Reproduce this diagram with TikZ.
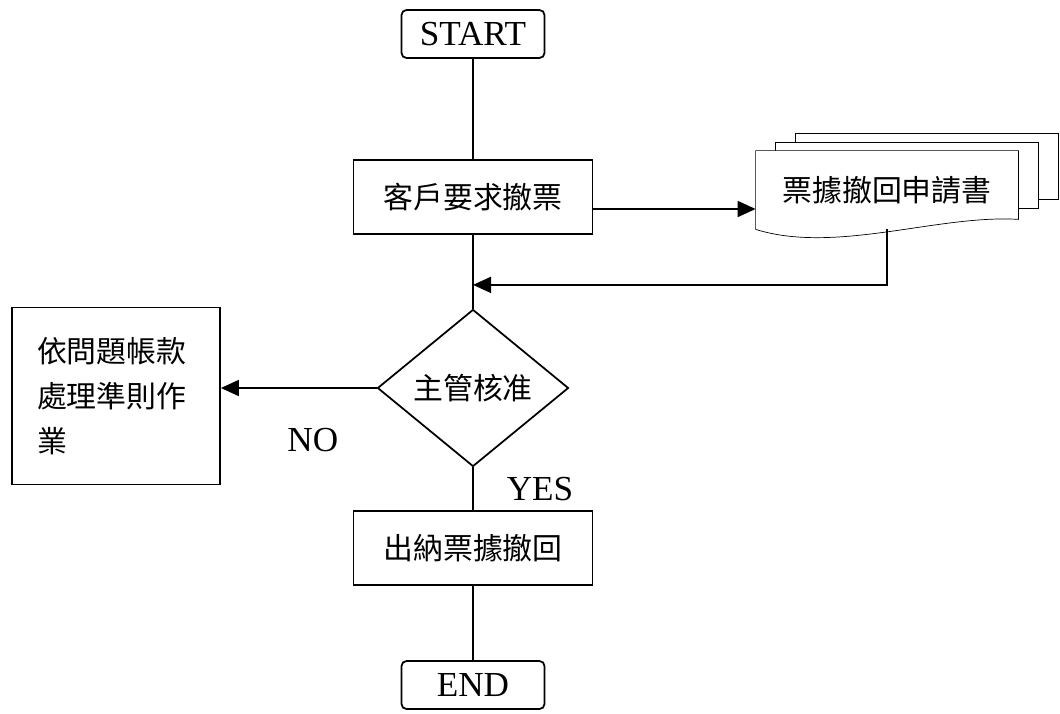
\documentclass[tikz,border=0pt]{standalone}
\usepackage{fontspec}
\setmainfont{Liberation Serif}
\newfontfamily\cjk{Noto Sans CJK TC}
\usetikzlibrary{arrows.meta, positioning, shapes.geometric, backgrounds}

\begin{document}
\begin{tikzpicture}[>={Triangle[length=0.36cm, width=0.32cm]}, node distance=3cm, on grid, line width=1pt,
        terminal/.style={rectangle, rounded corners=0.1cm, draw, minimum width=2.86cm, minimum height=0.96cm, font=\fontsize{20}{24}\selectfont},
        process/.style={rectangle, draw, minimum width=4.78cm, minimum height=1.48cm, font=\cjk\fontsize{17}{20}\selectfont},
        decision/.style={diamond, draw, aspect=1.2, inner sep=0pt, minimum width=3.82cm, minimum height=3.14cm, font=\cjk\fontsize{17}{20}\selectfont},
        docu/.style={rectangle, inner sep=0pt, minimum width=5.22cm, minimum height=1.54cm, font=\cjk\fontsize{17}{20}\selectfont},
        tag/.style={font=\fontsize{20}{24}\selectfont}]
    \useasboundingbox (0,0) rectangle (21.2,-14.26);

      % Main column
      \node[terminal] (start) at (9.46,-0.68) {START};
      \node[process, below=3.26cm of start] (request) {客戶要求撤票};
      \node[decision, below=3.82cm of request] (approve) {主管核准};
      \node[process, below=3.2cm of approve] (withdraw) {出納票據撤回};
      \node[terminal, below=2.74cm of withdraw] (finish) {END};

      % Side nodes
      \node[docu, right=8.28cm of request, yshift=0.14cm] (form) {票據撤回申請書};
      \node[process, left=7.14cm of approve, yshift=-0.16cm, minimum width=4.16cm, minimum height=3.54cm,
            inner xsep=0.5cm, text width=3.16cm, align=left, font=\cjk\fontsize{17}{25.5}\selectfont] (rule)
            {依問題帳款\\處理準則作\\業};

      % Document stack
      \begin{scope}[on background layer]
        \foreach \k in {2,1}
          \draw[fill=white] ([shift={(0.4*\k,0.17*\k)}]form.north west) rectangle ([shift={(0.4*\k,0.17*\k-1.32)}]form.north east);
        \draw[fill=white] (form.north west) -- (form.north east) -- ([yshift=0.2cm]form.south east)
          .. controls ([shift={(-1.6,0.3)}]form.south east) and ([shift={(1.6,-0.5)}]form.south west) .. (form.south west) -- cycle;
      \end{scope}

      % Connectors
      \coordinate (merge) at ([yshift=-1.0cm]request.south);
      \draw (start) -- (request);
      \draw (request) -- (approve);
      \draw[->] ([yshift=-0.24cm]request.east) -- ([yshift=-0.24cm]request.east -| form.west);
      \draw[->] (form.south) |- (merge);
      \draw[->] (approve.west) -- node[tag, xshift=0.28cm, yshift=-1.04cm] {NO} (approve.west -| rule.east);
      \draw (approve) -- node[tag, xshift=1.34cm] {YES} (withdraw);
      \draw (withdraw) -- (finish);

    \end{tikzpicture}
\end{document}
